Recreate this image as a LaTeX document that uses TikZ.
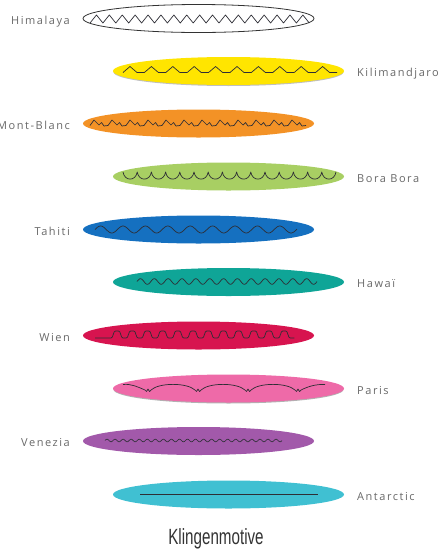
\documentclass[tikz,border=0pt]{standalone}
\usepackage{fontspec}
\setmainfont{Open Sans}
\newfontfamily\labfont[LetterSpace=14]{Open Sans}
\newfontfamily\titlefont[FakeStretch=0.69]{Liberation Sans}
\usetikzlibrary{shapes.geometric}
\definecolor{labgray}{HTML}{686868}
\definecolor{wave}{HTML}{2E2E35}
\definecolor{cKili}{HTML}{FFE500}
\definecolor{cMont}{HTML}{F39226}
\definecolor{cBora}{HTML}{A8CF63}
\definecolor{cTahi}{HTML}{1570C0}
\definecolor{cHawa}{HTML}{0FA597}
\definecolor{cWien}{HTML}{D7144F}
\definecolor{cPari}{HTML}{EE6AA8}
\definecolor{cVene}{HTML}{A259AA}
\definecolor{cAnta}{HTML}{40C0D2}
\begin{document}
\begin{tikzpicture}[x=1pt,y=-1pt,
  blade/.style={ellipse, minimum width=231pt, minimum height=28pt, inner sep=0pt},
  labL/.style={anchor=base east, inner sep=0pt, text=labgray, font=\labfont\fontsize{11}{13}\selectfont},
  labR/.style={anchor=base west, inner sep=0pt, text=labgray, font=\labfont\fontsize{11}{13}\selectfont},
  wv/.style={draw=wave, line width=0.7pt, line join=round}]
\useasboundingbox (0,0) rectangle (444,552);
% blades
\node[blade, draw=black!80, line width=0.8pt, fill=white] (b1) at (198.5,18.5) {};
\fill[black!25] (228.5,72) ellipse [x radius=115, y radius=14];
\node[blade, fill=cKili] (b2) at (228.5,71) {};
\node[blade, fill=cMont] (b3) at (198.5,123.5) {};
\node[blade, fill=cBora] (b4) at (228.5,176.5) {};
\node[blade, fill=cTahi] (b5) at (198.5,229.5) {};
\node[blade, fill=cHawa] (b6) at (228.5,282) {};
\node[blade, fill=cWien] (b7) at (198.5,335.5) {};
\fill[black!30] (228.5,389.5) ellipse [x radius=115, y radius=14];
\node[blade, fill=cPari] (b8) at (228.5,388.5) {};
\node[blade, fill=cVene] (b9) at (198.5,441) {};
\node[blade, fill=cAnta] (b10) at (228.5,494.5) {};
% labels
\node[labL] (l1) at (70,24) {Himalaya};
\node[labR] (l2) at (357,76.5) {Kilimandjaro};
\node[labL] (l3) at (70,129) {Mont-Blanc};
\node[labR] (l4) at (357,182) {Bora Bora};
\node[labL] (l5) at (70,235) {Tahiti};
\node[labR] (l6) at (357,287.5) {Hawaï};
\node[labL] (l7) at (70,341) {Wien};
\node[labR] (l8) at (357,394) {Paris};
\node[labL] (l9) at (70,446.5) {Venezia};
\node[labR] (l10) at (357,500) {Antarctic};
\node[anchor=base, text=black!80, font=\titlefont\fontsize{22}{24}\selectfont] (t) at (216,544) {Klingenmotive};
% Himalaya zigzag
\draw[wv] (90,23) \foreach \i in {1,...,34} { -- ({90+\i*6.45},{19+4*cos(180*\i)}) };
% Kilimandjaro trapezoid zigzag
\draw[wv] (123,72.5) \foreach \i in {0,...,9} { -- ({123+\i*21.4+7},66.5) -- ({123+\i*21.4+14},72.5) -- ({123+\i*21.4+21.4},72.5) };
% Mont-Blanc double zigzag
\draw[wv] (90,125.5) \foreach \i in {0,...,11} { -- ({90+\i*18+4},120) -- ({90+\i*18+9},125) -- ({90+\i*18+11.5},122.5) -- ({90+\i*18+14},126) -- ({90+\i*18+18},125.5) };
% Bora Bora scallops
\draw[wv] (123,172) \foreach \i in {0,...,14} { .. controls ({123+\i*14.2+1.5},181.5) and ({123+\i*14.2+12.7},181.5) .. ({123+(\i+1)*14.2},172) };
% Tahiti sine
\draw[wv] plot[domain=95:297, samples=240, smooth] (\x,{229.5-3.5*sin((\x-95)/22.4*360)});
% Hawaii small wave
\draw[wv] plot[domain=137:317, samples=260, smooth] (\x,{281.5-2.8*sin((\x-137)/13.85*360)});
% Wien square wave
\draw[wv, rounded corners=1pt] (95,338) -- (112,338) \foreach \i in {0,...,11} { -- ({112+\i*15.2+2.5},331) -- ({112+\i*15.2+7.5},331) -- ({112+\i*15.2+10},338) -- ({112+\i*15.2+15.2},338) };
% Paris arches
\draw[wv] (123,384.5) .. controls (131,383.5) and (138,387) .. (145,390)
  \foreach \n in {148,198,248} { -- ({\n-1.5},391.5) -- (\n,389) -- ({\n+1.5},391.5) -- ({\n+3},390) .. controls ({\n+11},382.5) and ({\n+39},382.5) .. ({\n+47},390) }
  -- (296.5,391.5) -- (298,389) -- (299.5,391.5) -- (301,390) .. controls (308,386.5) and (316,384) .. (325,384.5);
% Venezia fine wave
\draw[wv, line width=0.6pt] plot[domain=105:282, samples=300, smooth] (\x,{440.5-1.3*sin((\x-105)/8.05*360)});
% Antarctic line
\draw[draw=wave, line width=0.9pt] (140,494) -- (318,494);
\end{tikzpicture}
\end{document}
